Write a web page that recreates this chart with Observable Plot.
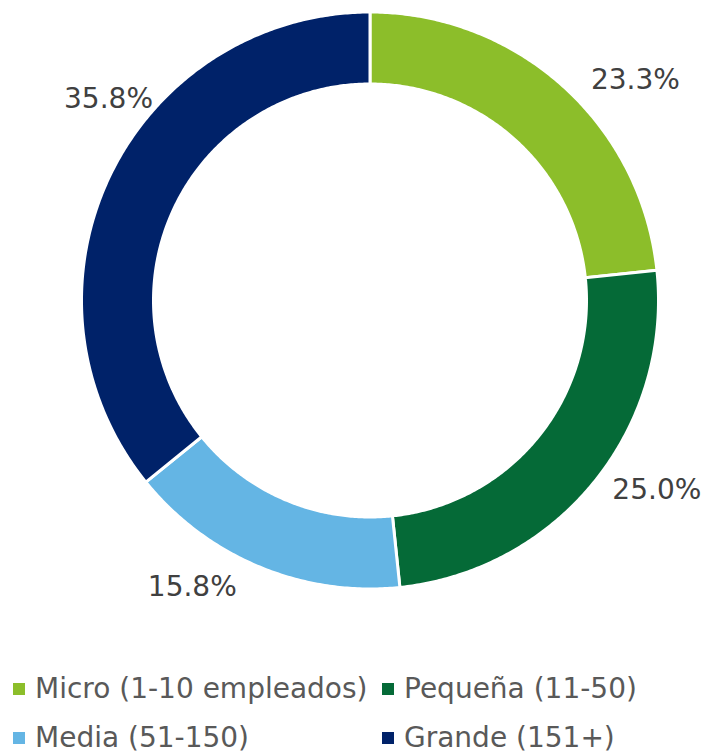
<!DOCTYPE html>
<html>
<head>
<meta charset="utf-8">
<script src="https://cdn.jsdelivr.net/npm/d3@7"></script>
<script src="https://cdn.jsdelivr.net/npm/@observablehq/plot@0.6"></script>
<style>
  html, body { margin: 0; padding: 0; background: #fff; overflow: hidden; }
  #chart { width: 705px; }
  .legend {
    display: grid;
    grid-template-columns: 369px auto;
    grid-auto-rows: 49px;
    padding: 24px 0 0 13px;
    font-family: "DejaVu Sans", Verdana, sans-serif;
    font-size: 28px;
    color: #595959;
  }
  .legend .item { display: flex; align-items: center; white-space: nowrap; }
  .legend .sw { width: 12px; height: 12px; margin-right: 10px; flex: none; }
</style>
</head>
<body>
<div id="chart"></div>
<script>
// ---- data ----
const categories = ["Micro (1-10 empleados)", "Pequeña (11-50)", "Media (51-150)", "Grande (151+)"];
const values = [23.3, 25.0, 15.8, 35.8];
const labels = ["23.3%", "25.0%", "15.8%", "35.8%"];
const colors = ["#8CBE2A", "#056A37", "#64B5E4", "#002269"];

// ---- layout / label placement tweaks (not data) ----
const W = 705, H = 640, cx = 369.5, cy = 300;
const outerR = 288.5, innerR = 216.5;
const labelShift = [8.3, -5.5, 9.3, 12.1];
const labelRadius = [345, 344, 337, 330];

const total = d3.sum(values);
let acc = 0;
const slices = values.map((v, i) => {
  const a0 = acc / total * 360;
  acc += v;
  const a1 = acc / total * 360;
  return {category: categories[i], a0, a1, label: labels[i], i};
});

const rad = (deg) => deg * Math.PI / 180;
const polygon = [];
for (const s of slices) {
  const n = Math.max(8, Math.ceil((s.a1 - s.a0) * 2));
  for (let k = 0; k <= n; k++) {
    const a = rad(s.a0 + (s.a1 - s.a0) * k / n);
    polygon.push({category: s.category, x: outerR * Math.sin(a), y: outerR * Math.cos(a)});
  }
  for (let k = n; k >= 0; k--) {
    const a = rad(s.a0 + (s.a1 - s.a0) * k / n);
    polygon.push({category: s.category, x: innerR * Math.sin(a), y: innerR * Math.cos(a)});
  }
}

const labelPts = slices.map(s => {
  const a = rad((s.a0 + s.a1) / 2 + labelShift[s.i]);
  const r = labelRadius[s.i];
  return {label: s.label, x: r * Math.sin(a), y: r * Math.cos(a)};
});

const chart = Plot.plot({
  width: W,
  height: H,
  margin: 0,
  x: {domain: [-cx, W - cx], axis: null},
  y: {domain: [-(H - cy), cy], axis: null},
  color: {domain: categories, range: colors},
  style: {fontFamily: "'DejaVu Sans', Verdana, sans-serif", background: "#fff"},
  marks: [
    Plot.line(polygon, {
      x: "x", y: "y", z: "category", fill: "category",
      stroke: "white", strokeWidth: 3, curve: "linear-closed"
    }),
    Plot.text(labelPts, {
      x: "x", y: "y", text: "label",
      fontSize: 28, fill: "#404040", textAnchor: "middle", lineAnchor: "middle"
    })
  ]
});
document.getElementById("chart").appendChild(chart);

// legend (HTML, below the SVG)
const legend = document.createElement("div");
legend.className = "legend";
categories.forEach((c, i) => {
  const item = document.createElement("div");
  item.className = "item";
  const sw = document.createElement("span");
  sw.className = "sw";
  sw.style.background = colors[i];
  const t = document.createElement("span");
  t.textContent = c;
  item.appendChild(sw);
  item.appendChild(t);
  legend.appendChild(item);
});
document.getElementById("chart").appendChild(legend);
</script>
</body>
</html>
